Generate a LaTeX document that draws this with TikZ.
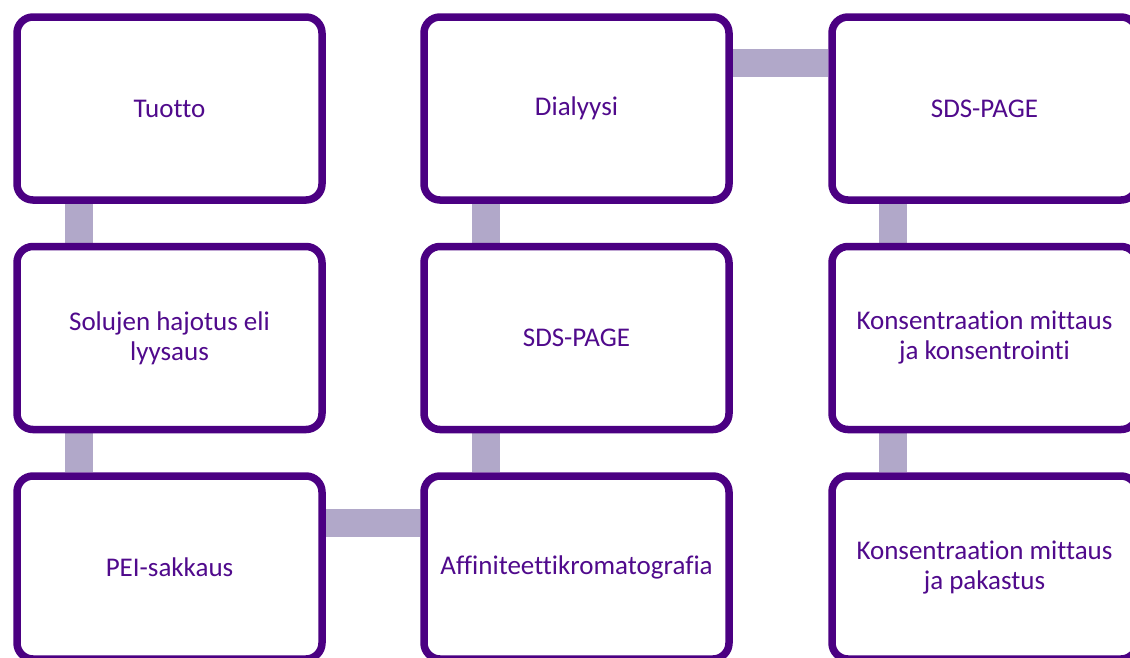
\documentclass[tikz,border=0pt]{standalone}
\usepackage{fontspec}
\setmainfont[Ligatures=NoCommon]{Carlito}
\usetikzlibrary{backgrounds,shadows}
\definecolor{boxborder}{HTML}{4B0082}
\definecolor{boxtext}{HTML}{500A8C}
\definecolor{linkcol}{HTML}{B1A8C9}
\tikzset{
  stepbox/.style={draw=boxborder, line width=7.5pt, fill=white, rounded corners=16pt,
    minimum width=305pt, minimum height=183pt, align=center, text=boxtext,
    font=\fontsize{27}{30}\selectfont,
    drop shadow={opacity=0.18, shadow xshift=1.5pt, shadow yshift=-3pt, fill=black}},
  link/.style={draw=linkcol, line width=28pt}
}
\begin{document}
\begin{tikzpicture}[x=1pt,y=-1pt]
\useasboundingbox (0,0) rectangle (1130,657);
\node[stepbox] (b1) at (169.5,108.5) {Tuotto};
\node[stepbox] (b2) at (169.5,338) {Solujen hajotus eli\\lyysaus};
\node[stepbox] (b3) at (169.5,567.5) {PEI-sakkaus};
\node[stepbox] (b4) at (576.5,567.5) {Affiniteettikromatografia};
\node[stepbox] (b5) at (576.5,338) {SDS-PAGE};
\node[stepbox] (b6) at (576.5,108.5) {Dialyysi};
\node[stepbox] (b7) at (984.5,108.5) {SDS-PAGE};
\node[stepbox] (b8) at (984.5,338) {Konsentraation mittaus\\ja konsentrointi};
\node[stepbox] (b9) at (984.5,567.5) {Konsentraation mittaus\\ja pakastus};
\begin{scope}[on background layer]
\draw[link] ([xshift=-90.5pt]b1.south) -- ([xshift=-90.5pt]b2.north);
\draw[link] ([xshift=-90.5pt]b2.south) -- ([xshift=-90.5pt]b3.north);
\draw[link] ([yshift=45pt]b3.east) -- ([yshift=45pt]b4.west);
\draw[link] ([xshift=-90.5pt]b4.north) -- ([xshift=-90.5pt]b5.south);
\draw[link] ([xshift=-90.5pt]b5.north) -- ([xshift=-90.5pt]b6.south);
\draw[link] ([yshift=46pt]b6.east) -- ([yshift=46pt]b7.west);
\draw[link] ([xshift=-91.5pt]b7.south) -- ([xshift=-91.5pt]b8.north);
\draw[link] ([xshift=-91.5pt]b8.south) -- ([xshift=-91.5pt]b9.north);
\end{scope}
\end{tikzpicture}
\end{document}
